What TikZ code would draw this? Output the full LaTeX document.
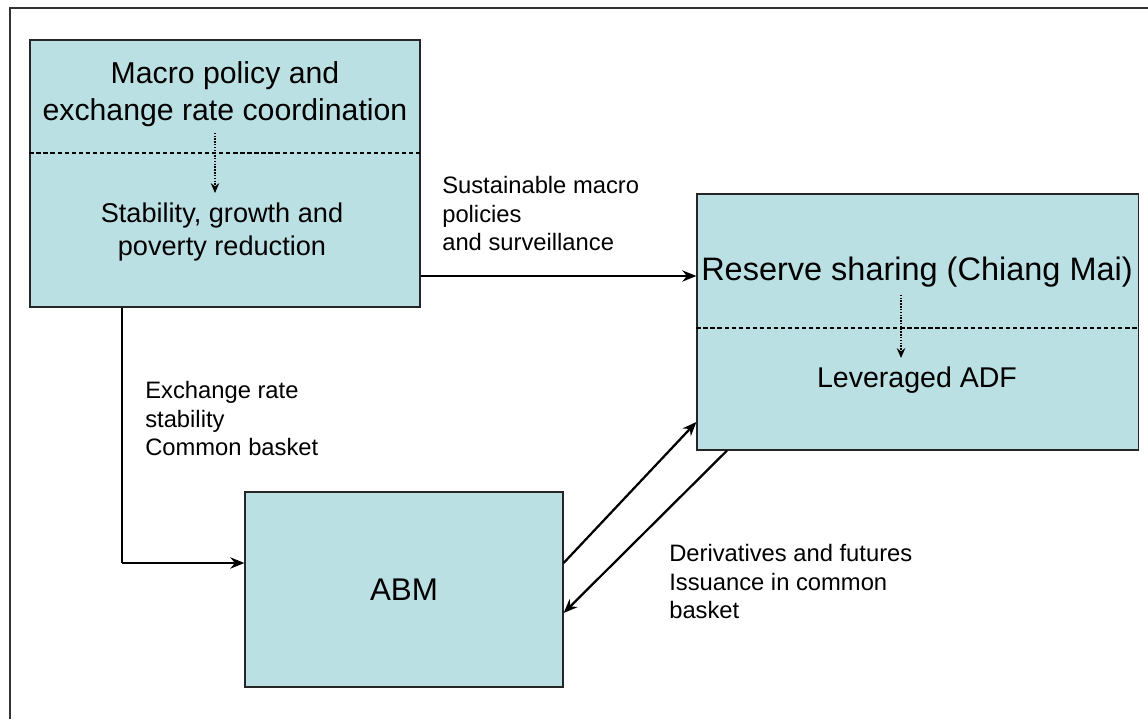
\documentclass[tikz,border=0pt]{standalone}
\usepackage{fontspec}
\setmainfont{Liberation Sans}
\usepackage{tikz}
\usetikzlibrary{positioning, arrows.meta}
\usetikzlibrary{calc}
\definecolor{boxcyan}{RGB}{187,224,227}
\tikzstyle{block} = [rectangle, draw=black!85, fill=boxcyan, line width=0.8pt, inner sep=0pt]
\tikzstyle{boxtext} = [inner sep=0pt, align=center, anchor=north]
\tikzstyle{note} = [inner sep=0pt, align=left, anchor=north west, font=\fontsize{16.9}{20.3}\selectfont]
\tikzstyle{arrow} = [line width=1.6pt,-{Stealth[length=10pt,width=8pt]}]
\tikzstyle{sep} = [line width=0.8pt, dash pattern=on 3pt off 2pt]
\tikzstyle{flowdot} = [line width=1pt, densely dotted, -{Stealth[length=7pt,width=6pt]}]

\begin{document}
\begin{tikzpicture}[x=0.025cm, y=-0.025cm]
  		\useasboundingbox (0,0) rectangle (1148,719);
  		\draw [black!80, line width=0.8pt] (10,719) -- (10,8) -- (1148,8);
  		
  		%blocks
  		\node (macro) [block, minimum width=9.75cm, minimum height=6.675cm] at (225,173.5) {};
  		\node (reserve) [block, minimum width=11.025cm, minimum height=6.4cm] at (917.5,322) {};
  		\node (abm) [block, minimum width=7.95cm, minimum height=4.875cm, font=\fontsize{22.3}{26}\selectfont] at (404,589.5) {ABM};
  		
  		%texts inside the blocks
  		\node (macrotop) [boxtext, font=\fontsize{21.5}{26.3}\selectfont] at (225,61) {Macro policy and\\exchange rate coordination};
  		\node (macrobot) [boxtext, font=\fontsize{19.3}{22.8}\selectfont] at (222,203) {Stability, growth and\\poverty reduction};
  		\node (reservetop) [boxtext, font=\fontsize{23.1}{27}\selectfont] at (917,257) {Reserve sharing (Chiang Mai)};
  		\node (reservebot) [boxtext, font=\fontsize{20.3}{24}\selectfont] at (917,367) {Leveraged ADF};
  		\draw [sep] (macro.west |- 0,153) -- (macro.east |- 0,153);
  		\draw [sep] (reserve.west |- 0,328) -- (reserve.east |- 0,328);
  		\draw [flowdot] ($(macrotop.south -| 215,0)+(0,6)$) -- ($(macrobot.north -| 215,0)+(0,-10)$);
  		\draw [flowdot] ($(reservetop.south -| 901,0)+(0,7)$) -- ($(reservebot.north -| 901,0)+(0,-9)$);
  		
  		%labels
  		\node (sustain) [note] at (442,176) {Sustainable macro\\policies\\and surveillance};
  		\node (exch) [note] at (145,381) {Exchange rate\\stability\\Common basket};
  		\node (deriv) [note] at (669,544) {Derivatives and futures\\Issuance in common\\basket};
  		
  		%connectors
  		\coordinate (bend) at (122,563);
  		\draw [arrow] (macro.east |- 0,276) -- (reserve.west |- 0,276);
  		\draw [line width=0.8pt] (macro.south -| bend) -- (bend);
  		\draw [arrow] (bend) -- (abm.west |- bend);
  		\draw [arrow] (abm.east |- 0,563) -- (reserve.west |- 0,422);
  		\draw [arrow] (reserve.south -| 727,0) -- (abm.east |- 0,613);
  	\end{tikzpicture}
\end{document}
